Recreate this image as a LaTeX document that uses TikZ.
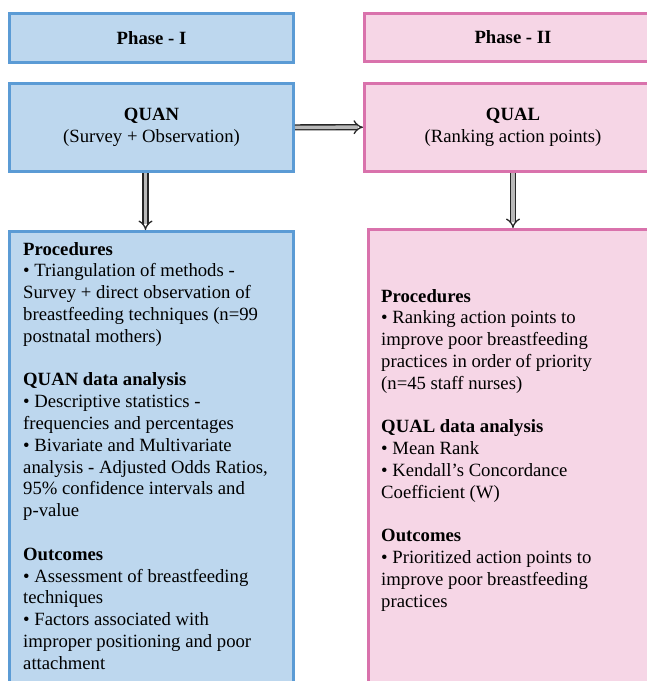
\documentclass[tikz,border=0pt]{standalone}
\usepackage{fontspec}
\setmainfont{Liberation Serif}
\usetikzlibrary{arrows.meta,positioning}
\definecolor{bluefill}{RGB}{189,215,238}
\definecolor{blueline}{RGB}{91,155,213}
\definecolor{pinkfill}{RGB}{246,214,230}
\definecolor{pinkline}{RGB}{217,114,172}
\tikzset{
  bluebox/.style={draw=blueline, fill=bluefill, line width=3pt, inner sep=0pt, align=center},
  pinkbox/.style={draw=pinkline, fill=pinkfill, line width=3pt, inner sep=0pt, align=center},
  fatarrow/.style={draw=black!85, double=gray!55, double distance=3.5pt, line width=1.3pt, -{Implies}},
  bodytext/.style={anchor=north west, align=left, inner sep=0pt}
}
\begin{document}
\begin{tikzpicture}[x=1pt, y=-1pt, font=\fontsize{18.7}{21.8}\selectfont]
\clip (0,0) rectangle (647,681);
% phase I
\node[bluebox, minimum width=284pt, minimum height=48.5pt] (phase1) at (151.5,37.75) {\textbf{Phase - I}};
\node[bluebox, minimum width=284pt, minimum height=88pt] (quan) at (151.5,127.5) {\textbf{QUAN}\\(Survey + Observation)};
\node[bluebox, minimum width=284pt, minimum height=468.5pt] (quanbox) at (151.5,465.75) {};
% phase II
\node[pinkbox, minimum width=297pt, minimum height=48pt] (phase2) at (513,37) {\textbf{Phase - II}};
\node[pinkbox, minimum width=297pt, minimum height=88pt] (qual) at (513,127) {\textbf{QUAL}\\(Ranking action points)};
\node[pinkbox, minimum width=289pt, minimum height=470.5pt] (qualbox) at (513,464.75) {};

\draw[fatarrow] (quan) -- (qual);
\draw[fatarrow] ([xshift=-6pt]quan.south) -- ([xshift=-6pt]quanbox.north);
\draw[fatarrow] (qual) -- (qualbox);

\node[bodytext] (quantext) at (23,242) {\textbf{Procedures}\\
\textbullet{} Triangulation of methods -\\
Survey + direct observation of\\
breastfeeding techniques (n=99\\
postnatal mothers)\\[21.8pt]
\textbf{QUAN data analysis}\\
\textbullet{} Descriptive statistics -\\
frequencies and percentages\\
\textbullet{} Bivariate and Multivariate\\
analysis - Adjusted Odds Ratios,\\
95\% confidence intervals and\\
p-value\\[21.8pt]
\textbf{Outcomes}\\
\textbullet{} Assessment of breastfeeding\\
techniques\\
\textbullet{} Factors associated with\\
improper positioning and poor\\
attachment};

\node[bodytext] (qualtext) at (381,289) {\textbf{Procedures}\\
\textbullet{} Ranking action points to\\
improve poor breastfeeding\\
practices in order of priority\\
(n=45 staff nurses)\\[21.8pt]
\textbf{QUAL data analysis}\\
\textbullet{} Mean Rank\\
\textbullet{} Kendall’s Concordance\\
Coefficient (W)\\[21.8pt]
\textbf{Outcomes}\\
\textbullet{} Prioritized action points to\\
improve poor breastfeeding\\
practices};
\end{tikzpicture}
\end{document}
